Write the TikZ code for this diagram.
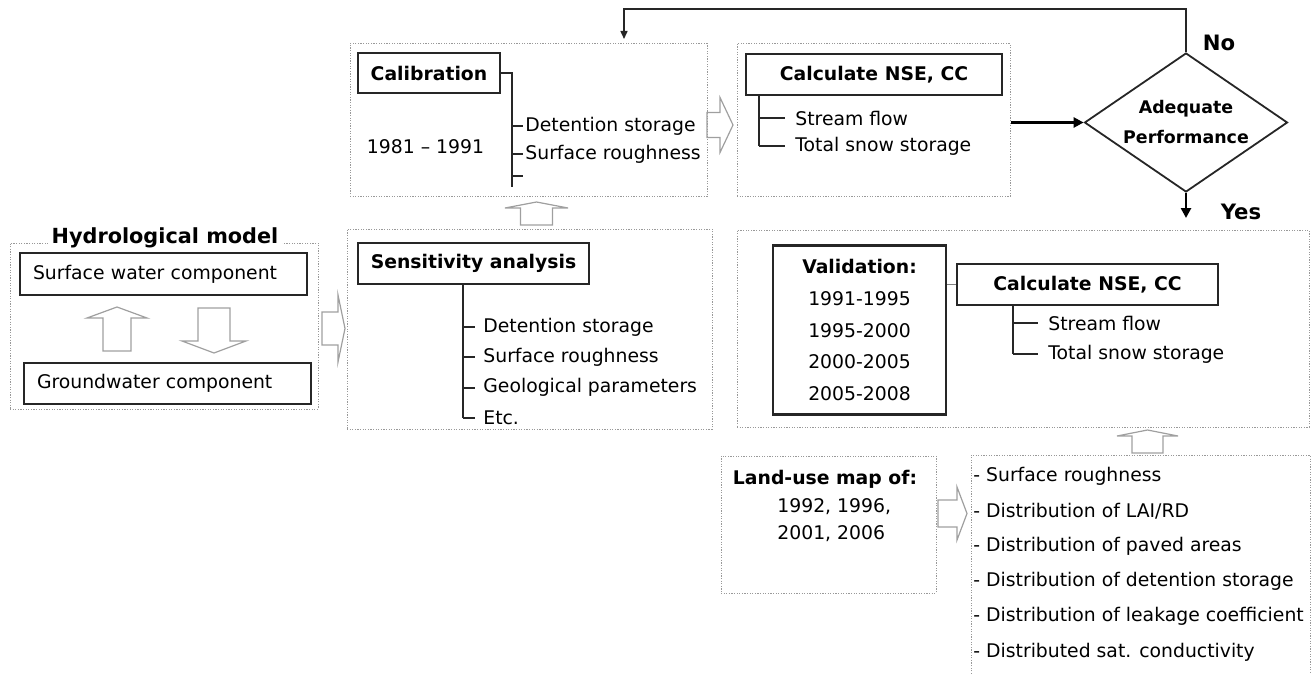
\documentclass[tikz,border=0pt]{standalone}
\usepackage{fontspec}
\setmainfont{DejaVu Sans}
\usetikzlibrary{shapes.geometric,arrows.meta}
\def\pxsize{0.5pt}
\newcommand{\boxfont}{\fontsize{9.4}{11}\selectfont}
\newcommand{\headfont}{\fontsize{10.4}{12}\selectfont\bfseries}
\newcommand{\decisionfont}{\fontsize{8.7}{15}\selectfont\bfseries}
\newcommand{\answerfont}{\fontsize{10.6}{12}\selectfont\bfseries}
% hollow block arrow: base, rotation, body length, head length, body half width, head half width
\newcommand{\blockarrow}[6]{
  \draw[blockline, shift={(#1)}, rotate=#2] (0,-#5) -- (#3,-#5) -- (#3,-#6) -- ({#3+#4},0)
    -- (#3,#6) -- (#3,#5) -- (0,#5) -- cycle;
}

\begin{document}
\begin{tikzpicture}[x=0.5pt, y=-0.5pt,
  groupbox/.style={draw=gray!80, line width=0.5pt, dash pattern=on 0.6pt off 0.7pt},
  solidbox/.style={draw=black!85, line width=1.1pt, inner sep=0pt, font=\boxfont},
  headbox/.style={solidbox, font=\boxfont\bfseries},
  listtext/.style={anchor=west, inner sep=0pt, font=\boxfont},
  treeline/.style={draw=black!85, line width=0.9pt},
  thinline/.style={draw=gray, line width=0.5pt},
  blockline/.style={draw=gray!75, line width=0.6pt},
  thickarrow/.style={draw=black, line width=1.4pt, -{Triangle[length=5pt,width=5pt]}},
  fbarrow/.style={draw=black!85, line width=0.75pt, -{Triangle[length=4pt,width=3.5pt]}},
  decision/.style={diamond, draw=black!85, line width=0.9pt, aspect=1.46, inner sep=0pt,
    minimum width=203*\pxsize, minimum height=139*\pxsize, align=center, font=\decisionfont}]
\useasboundingbox (0,0) rectangle (1316,674);

% dotted groups
\node[groupbox, minimum width=308*\pxsize, minimum height=166*\pxsize] (hydgroup) at (164,326) {};
\node[groupbox, minimum width=357*\pxsize, minimum height=153*\pxsize] (calgroup) at (528.5,120) {};
\node[groupbox, minimum width=273*\pxsize, minimum height=153*\pxsize] (calcgroup) at (873.5,120) {};
\node[groupbox, minimum width=365*\pxsize, minimum height=200*\pxsize] (sensgroup) at (529.5,329) {};
\node[groupbox, minimum width=572*\pxsize, minimum height=197*\pxsize] (valgroup) at (1023,328.5) {};
\node[groupbox, minimum width=215*\pxsize, minimum height=137*\pxsize] (landgroup) at (828.5,524.5) {};
\coordinate (listtl) at (971,455);
\coordinate (listtr) at (1310,455);
\draw[groupbox] (listtl |- 0,674) -- (listtl) -- (listtr) -- (listtr |- 0,674);

% hydrological model
\node[fill=white, inner xsep=2pt, inner ysep=0pt, font=\headfont] (hydtitle) at (165,238) {Hydrological model};
\node[solidbox, minimum width=287*\pxsize, minimum height=42*\pxsize, text width=261*\pxsize] (surface) at (163.5,274) {Surface water component};
\node[solidbox, minimum width=287*\pxsize, minimum height=41*\pxsize, text width=261*\pxsize] (ground) at (167.5,383.5) {Groundwater component};
\blockarrow{117,351}{90}{33}{11}{14}{30}
\blockarrow{214,308}{-90}{33}{12}{16}{32}
\blockarrow{322,328.5}{0}{16}{7}{16.5}{33.5}

% sensitivity analysis
\node[headbox, minimum width=231*\pxsize, minimum height=41*\pxsize] (sens) at (473.5,263.5) {Sensitivity analysis};
\coordinate (senstrunk) at (463,418);
\draw[treeline] (senstrunk |- sens.south) -- (senstrunk);
\foreach \param [count=\i] in {Detention storage, Surface roughness, Geological parameters, Etc.} {
  \node[listtext] (senspar\i) at (483,{327+30.33*(\i-1)}) {\param};
  \draw[treeline] (senstrunk |- senspar\i) -- ([xshift=-4pt]senspar\i.west);
}
\blockarrow{536.5,225}{90}{17}{6}{16}{31.5}

% calibration
\node[headbox, minimum width=142*\pxsize, minimum height=40*\pxsize] (calib) at (429,73) {Calibration};
\node[font=\boxfont] (calibyears) at (425.5,147) {1981 – 1991};
\coordinate (calibtrunk) at (512,187);
\draw[treeline] (calib.east) -| (calibtrunk);
\node[listtext] (calibpar1) at (525,126) {Detention storage};
\node[listtext] (calibpar2) at (525,154) {Surface roughness};
\node[listtext] (calibpar3) at (525,176) {};
\foreach \i in {1,2,3}
  \draw[treeline] (calibtrunk |- calibpar\i) -- ([xshift=-1pt]calibpar\i.west);
\blockarrow{707,125}{0}{13}{13}{12.5}{27.5}

% calculate NSE, CC
\node[headbox, minimum width=256*\pxsize, minimum height=41*\pxsize] (calc) at (874,74.5) {Calculate NSE, CC};
\coordinate (calctrunk) at (759,146);
\draw[treeline] (calctrunk |- calc.south) -- (calctrunk);
\node[listtext] (calcpar1) at (795,118) {Stream flow};
\node[listtext] (calcpar2) at (795,146) {Total snow storage};
\foreach \i in {1,2}
  \draw[treeline] (calctrunk |- calcpar\i) -- ([xshift=-5pt]calcpar\i.west);

% decision
\node[decision] (decision) at (1186,122.5) {Adequate\\Performance};
\node[font=\answerfont] (no) at (1219,43) {No};
\node[font=\answerfont] (yes) at (1241,212) {Yes};
\draw[thickarrow] (calcgroup.east |- decision.west) -- (decision.west);
\coordinate (fbcorner) at (624,9);
\draw[fbarrow] (decision.north) |- (fbcorner) -- ([yshift=2pt]fbcorner |- calgroup.north);
\coordinate (yesend) at (1186,218);
\draw[thickarrow] (decision.south) -- (yesend);

% validation
\node[solidbox, minimum width=173*\pxsize, minimum height=169*\pxsize, align=center,
  font={\fontsize{9.4}{15.8}\selectfont}] (valbox) at (859.5,330)
  {\textbf{Validation:}\\1991-1995\\1995-2000\\2000-2005\\2005-2008};
\node[headbox, minimum width=261*\pxsize, minimum height=41*\pxsize] (calctwo) at (1087.5,284.5) {Calculate NSE, CC};
\draw[thinline] (valbox.east |- calctwo.west) -- (calctwo.west);
\coordinate (calctwotrunk) at (1013,354);
\draw[treeline] (calctwotrunk |- calctwo.south) -- (calctwotrunk);
\node[listtext] (calctwopar1) at (1048,323) {Stream flow};
\node[listtext] (calctwopar2) at (1048,354) {Total snow storage};
\foreach \i in {1,2}
  \draw[treeline] (calctwotrunk |- calctwopar\i) -- ([xshift=-5pt]calctwopar\i.west);
\blockarrow{1147.5,453}{90}{17}{6}{15.5}{30.5}

% land-use maps
\node[font=\boxfont\bfseries] (landtitle) at (825,479) {Land-use map of:};
\node[listtext, align=left, font={\fontsize{9.4}{13.3}\selectfont}] (landyears) at (777,520) {1992, 1996,\\2001, 2006};
\blockarrow{938,513.5}{0}{19}{10}{13.5}{26.5}
\foreach \param [count=\i from 0] in {Surface roughness, Distribution of LAI/RD, Distribution of paved areas,
  Distribution of detention storage, Distribution of leakage coefficient, Distributed sat. conductivity}
  \node[listtext] (landpar\i) at (973,{476+35.2*\i}) {- \param};
\end{tikzpicture}
\end{document}
